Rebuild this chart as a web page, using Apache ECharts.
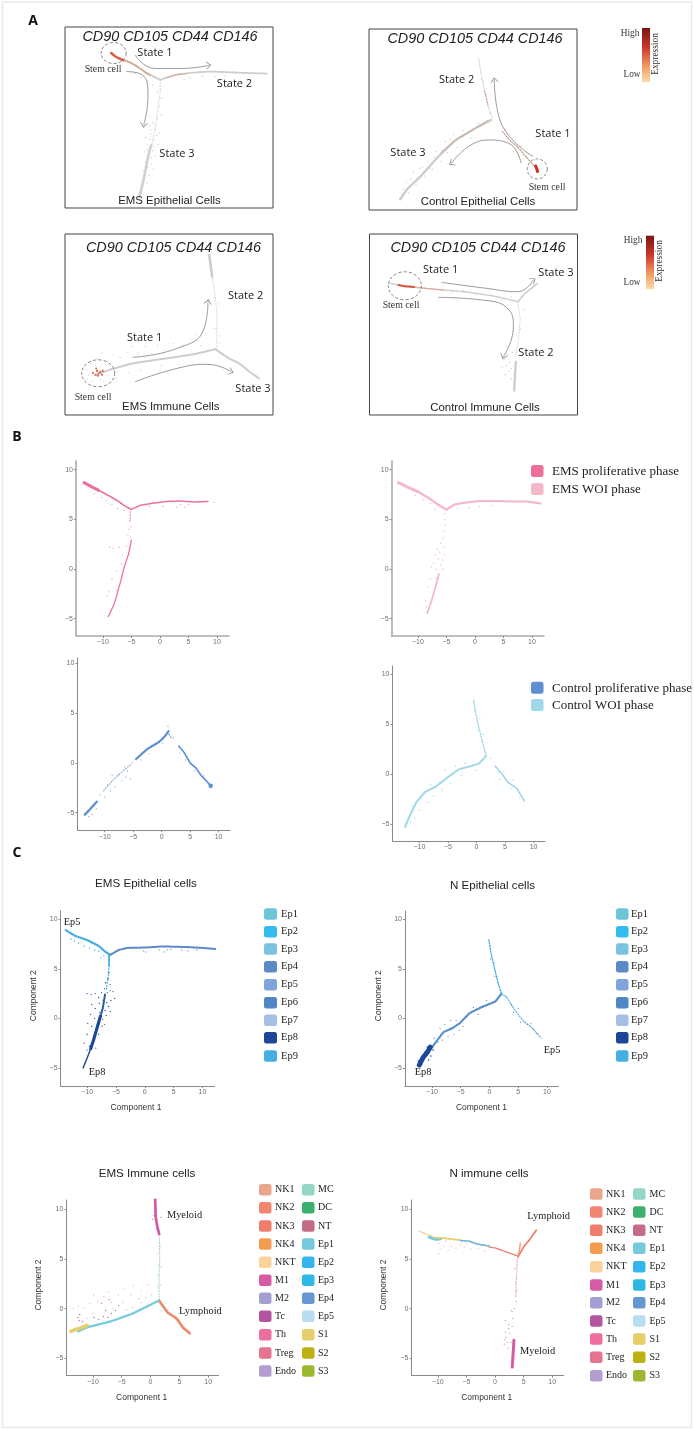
<!DOCTYPE html>
<html><head><meta charset="utf-8">
<style>html,body{margin:0;padding:0;background:#fff}#c{width:694px;height:1430px;filter:blur(0.4px)}</style>
<script src="https://cdn.jsdelivr.net/npm/echarts@6/dist/echarts.min.js"></script>
</head><body><div id="c"></div>
<script>
/* ---------- category / label lists ---------- */
const tickX = [-10,-5,0,5,10];
const tickY = [-5,0,5,10];
const panelLetters = ['A','B','C'];
const markerNames = 'CD90 CD105 CD44 CD146';
const epNames = ['Ep1','Ep2','Ep3','Ep4','Ep5','Ep6','Ep7','Ep8','Ep9'];
const epColors = ['#6DC5D8','#33BDEF','#7BC2E0','#5B8AC6','#7FA3DB','#4F86C6','#A5BFE6','#1C4797','#43AFE3'];
const immuneCol1 = ['NK1','NK2','NK3','NK4','NKT','M1','M2','Tc','Th','Treg','Endo'];
const immuneCol1Colors = ['#E9A68A','#F08570','#F07C6B','#F39C4E','#FAD29C','#D65BA5','#A49FD3','#B4569F','#EE6EA0','#E5738F','#B49BD0'];
const immuneCol2 = ['MC','DC','NT','Ep1','Ep2','Ep3','Ep4','Ep5','S1','S2','S3'];
const immuneCol2Colors = ['#94D6C6','#3BAF6E','#C66B85','#74CADB','#35B5EE','#2DB9E3','#6597D3','#B6DEF0','#E6CE6B','#BCB012','#9CB82F'];

/* ---------- A1 EMS epithelial ---------- */
const a1Top=[[-13.5,9],[-12.3,8.5],[-9.9,8],[-7.8,7.1],[-5.4,6.4]];
const a1Right=[[-5.4,6.4],[-2.7,6.9],[0,7.1],[3,7.2],[7,7.1],[12,7]];
const a1DownSparse=[[-5.4,6.4],[-5.4,5.4],[-6.2,1.8],[-6.8,0]];
const a1DownDense=[[-6.9,0],[-7.4,-1.1],[-8,-3],[-8.8,-5]];
const a1Hot=[[-13.4,9],[-12.8,8.7],[-12.2,8.5],[-11.4,8.3]];
const a1Warm=[[-11.2,8.3],[-10.2,8],[-9.2,7.7],[-8.2,7.3],[-7,6.8]];
const a1WarmRight=[[-4.5,6.6],[-3,6.85],[-1.2,7]];
const a1Grey=[[-9.5,7],[-8.5,6.6],[-7.5,6.3],[-6.6,5.9],[-5.9,5.2],[-5.2,4.6],[-5.6,3.8],[-5.2,3],[-5.9,2.6],[-6.6,2.2],[-7.2,1.9],[-6.2,1.6],[-5.6,1.2],[-6.9,1.1],[-7.8,0.8],[-6.4,0.5],[-5.8,0.1],[-7.4,0.1],[-8,-0.6],[-6.6,-0.5],[-6.2,-1],[-7.8,-1.6],[-6.8,-1.8],[-6.5,-2.3],[-8.2,-2.4],[-7.2,-2.9],[-7.6,-3.6],[-0.5,6.6],[1.5,6.7],[3.5,6.7],[5.2,6.75],[-1.5,6.4],[-7,1.5],[-6,1],[-7.1,0.6],[-6.5,-0.1],[-7.5,-0.4],[-6.9,-1.2],[-7.4,-2.1],[-8.1,-3.4],[-8.3,-4.1]];

/* ---------- A2 control epithelial ---------- */
const a2Lower=[[-12.5,-4.8],[-11.4,-3.9],[-9.3,-2.76],[-6.5,-1],[-3.6,0.54],[-0.5,1.6],[2,2.34]];
const a2Upper=[[0,7.9],[0.3,6.8],[0.94,5.05],[1.5,3.6],[2.2,2.5]];
const a2Right=[[3.8,1.29],[5,0.5],[6.2,-0.06],[7.8,-1.1],[9.4,-2.16]];
const a2Warm=[[-6,-0.6],[-4.8,0],[-3.6,0.6],[-2,1.1],[-0.5,1.6],[1.5,2.3]];
const a2WarmUp=[[0.9,5],[1.2,4.4],[1.5,3.7]];
const a2WarmRight=[[3.8,1.3],[5,0.5],[6.2,-0.1],[7.6,-1],[9,-1.9]];
const a2Hot=[[9.1,-1.8],[9.3,-2.1],[9.4,-2.3]];
const a2Grey=[[-11.5,-3.3],[-10.8,-3],[-10,-3.5],[-9.4,-2],[-8.6,-2.7],[-8,-1.4],[-7.4,-2.1],[-6.8,-0.5],[-6,-1.4],[-5.3,0.4],[-5,-0.6],[-4,1],[-3.4,-0.1],[-2.5,1.4],[-1.2,0.7],[0,2],[4.6,1.1],[5.6,-0.5],[6.8,0],[7.6,-0.6],[0.4,6],[0.7,5.8],[1.3,4.6],[1.8,3],[-12,-3.9],[-11.2,-4.2],[-12.2,-4.4],[-10.4,-2.4],[-9.8,-3],[-8.9,-1.9],[-7.8,-2],[-7,-1],[-5.8,-0.4],[-4.5,0.6]];

/* ---------- A3 EMS immune ---------- */
const a3Left=[[-13,-1.93],[-11,-1.3],[-8.5,-0.7],[-5.5,-0.3],[-3.1,0],[-1,0.3],[1.5,0.8]];
const a3Up=[[1.67,0.8],[1.67,4.6],[1.3,7.5],[1.1,8.5]];
const a3UpDense=[[1.1,8.5],[0.9,9.8],[0.76,10.8]];
const a3Right=[[1.5,0.8],[3,-0.1],[4.35,-0.7],[5.5,-1.5],[6.75,-2.28]];
const a3HotPts=[[-13.3,-1.7],[-13,-1.9],[-12.8,-1.5],[-12.6,-1.75],[-12.4,-1.6],[-12.2,-1.9],[-12.7,-2],[-12.1,-1.5],[-12.9,-1.25]];
const a3Grey=[[-14,-1.4],[-13.6,-0.7],[-12.8,-0.2],[-12.2,0.4],[-11.5,-0.4],[-10.8,0.2],[-10,-0.1],[-9.2,0.5],[-8.6,1.1],[-7.8,0.4],[-7,1.1],[-6.2,0.3],[-5.5,1.2],[-4.6,0.7],[-3.6,1.4],[-2.5,1.2],[-1.5,1.9],[-0.8,2.4],[-0.2,1.2],[-10.5,-2.3],[-9,-1.7],[-7.5,-1.4],[-5,-1],[-3,-0.8],[-13.6,-2.6],[-12,-2.6],[1.4,3],[2,2.2],[1.9,5.6],[1.4,6.3],[2,1.5],[-14,-2.4],[-13.8,-1.9],[-13.2,-2.6],[-12.4,-2.4],[-11.5,-2],[-11.8,-0.8],[-13,-0.9]];

/* ---------- A4 control immune ---------- */
const a4Left=[[-12.3,7.5],[-10,7.08],[-6.5,6.75],[-2.9,6.45],[0.8,5.9],[3.8,5.2]];
const a4UpRight=[[3.8,5.2],[4.8,6.3],[6.3,7.5]];
const a4Down=[[3.8,5.2],[4.1,2.9],[3.9,0.5],[3.6,-1.5]];
const a4DownDense=[[3.55,-2.4],[3.45,-4],[3.35,-6]];
const a4Hot=[[-11.2,7.3],[-10.5,7.15],[-9.8,7.1],[-9.2,7.05]];
const a4Warm=[[-9.2,7.05],[-7.5,6.85],[-5.5,6.65]];
const a4Grey=[[-4.5,6.3],[-3,6.6],[-1.5,6.1],[0.5,6.1],[1.8,5.4],[3,5.8],[4.2,5.9],[4.5,4.2],[4.1,1.8],[3.6,0.9],[2.4,-0.5],[2.5,-1.4],[2.1,-2.1],[2.4,-2.8],[1.8,-3],[2.7,-3.5],[2.2,-4],[3,-4.5],[2.8,-2.4],[3,-3.2],[3.1,-1.2]];

/* ---------- B1 / B2 EMS phases ---------- */
const b1TopDense=[[-13.3,8.7],[-12,8.3],[-10.8,7.95]];
const b1Top=[[-10.8,7.95],[-9,7.4],[-7.5,6.9],[-6,6.3],[-5,6]];
const b1Right=[[-5,6],[-3.5,6.4],[-1.5,6.6],[1,6.8],[3.5,6.85],[6,6.75],[8.4,6.8]];
const b1Down=[[-5.2,5.8],[-5.2,5.2],[-5.3,4.8]];
const b1Lower=[[-5,2.9],[-5.5,1.5],[-6.2,0.3],[-7,-1.5],[-8,-3.5],[-9.05,-4.8]];
const b1Pts=[[-11.5,7.6],[-10.2,7.2],[-9.4,6.9],[-8.4,6.5],[-7.4,6.1],[-6.9,6.6],[-6.3,5.9],[-5.1,4.3],[-5.4,4],[-5.6,3.4],[-5.1,3.2],[-8.8,2.2],[-8.2,2.1],[-7.1,2.2],[-6.6,1.4],[-5.9,2.3],[-6.8,0.5],[-7.6,-0.2],[-8.4,-1],[-8.9,-2.3],[-9.2,-2.7],[-1.8,6.3],[0.5,6.3],[3,6.2],[3.6,6.5],[4.4,6.2],[5,6.5],[9.5,6.7],[-7.6,-2.2],[-6.5,-0.7]];
const b2TopDense=[[-13.4,8.7],[-12,8.3],[-10,7.8]];
const b2Top=[[-10,7.8],[-8,7.1],[-6.5,6.5],[-5,6]];
const b2Right=[[-5,6],[-3.5,6.5],[-1.5,6.7],[1,6.85],[3.5,6.85],[6.5,6.8],[9,6.8],[11.5,6.6]];
const b2Lower=[[-6.3,-0.5],[-7,-2],[-7.6,-3.2],[-8.4,-4.5]];
const b2Pts=[[-5.3,5.6],[-5.3,5],[-5.2,4.4],[-5.4,3.8],[-5.6,3.1],[-6,2.6],[-6.6,2],[-5.5,2.2],[-6.2,1.7],[-5.4,1.5],[-7,1.4],[-6.4,1],[-5.7,0.9],[-7.2,0.6],[-6,0.4],[-6.8,0],[-7.6,0.2],[-5.6,0],[-7.8,-1],[-6.8,-0.9],[-8.2,-1.8],[-8.6,-3.2],[-8.5,-3.8],[-10.5,7.4],[-9,7],[-7.8,6.6],[-7,6],[-1,6.2],[0.8,6.3],[3,6.4],[-3,6.1]];

/* ---------- B3 / B4 control phases ---------- */
const b3Lower=[[-13.5,-5.2],[-12.5,-4.6],[-11.4,-3.9]];
const b3Mid=[[-10.2,-2.8],[-8.5,-1.7],[-7,-0.9],[-5.5,-0.2]];
const b3Upper=[[-4.5,0.4],[-2.5,1.4],[-0.5,2.1],[0.6,2.7],[1.2,3.2]];
const b3Tip=[[1.3,2.9],[1.6,2.6],[2,2.5]];
const b3Right=[[3,1.7],[4,1],[5,0],[6,-0.5],[7,-1.3],[8,-1.9],[8.6,-2.3]];
const b3Pts=[[-12.2,-5.2],[-12.8,-5.4],[-11.5,-4.6],[-10.8,-3.2],[-10,-3.4],[-9.5,-2.2],[-9,-2.8],[-8.2,-2.4],[-7.6,-1.2],[-7,-1.8],[-6.3,-1.4],[-6,-0.8],[-5.5,-1.6],[-8.7,-1.2],[-6.5,-0.4],[-5.2,0],[-3.6,0.3],[-2.2,0.9],[3.2,1],[4.2,0.3],[5.8,-0.8],[7.4,-1.3],[8.6,-2.5],[1.1,3.7],[0.2,2]];
const b4Lower=[[-12.5,-5.3],[-11.7,-4.2],[-10.5,-2.8],[-9,-1.8],[-7,-1.2],[-5,-0.3],[-3,0.5],[-1,0.8],[0.5,1.1],[1.6,1.8]];
const b4Up=[[-0.5,7.4],[-0.2,6.3],[0.3,5],[0.8,3.8],[1.5,2.3],[1.8,1.7]];
const b4Right=[[3.3,0.8],[4.5,0],[5.5,-0.8],[7,-1.4],[8.4,-2.7]];
const b4Pts=[[-11.5,-4.8],[-10.8,-4.4],[-11.2,-3.2],[-10,-3.6],[-9.6,-2.5],[-8.5,-2.8],[-8,-1],[-7.5,-2.2],[-6.6,-0.8],[-6,-1.6],[-5.5,0.4],[-4.6,-0.9],[-3.7,0.8],[-2.6,-0.1],[-2,1.1],[0,0.4],[3.8,0.2],[4.1,-0.5],[4.8,0.3],[6,-1.4],[6.4,-0.6],[7.6,-2.4],[0,6.4],[0.6,5.6],[0.2,4.4],[1,3.2],[1.2,4],[2.4,1.6]];

/* ---------- C1 EMS epithelial ---------- */
const c1Top=[[-13.7,8.9],[-12,8.3],[-10,7.9],[-8,7.3],[-6.8,6.7],[-6,6.4]];
const c1Right=[[-6,6.4],[-4.5,6.9],[-3,7.1],[0,7.15],[3,7.25],[7,7.2],[10,7.1],[12.3,7]];
const c1Stem=[[-6.2,6.3],[-6.2,5.3]];
const c1Stalk=[[-6.2,5.3],[-6.4,4],[-6.7,2.8]];
const c1DarkThin=[[-6.9,2.4],[-7.3,1],[-7.7,0.2]];
const c1Dark=[[-7.7,0.2],[-8.2,-0.8],[-8.9,-2.2],[-9.4,-3.1]];
const c1DarkTail=[[-9.4,-3.1],[-10,-4],[-10.7,-5]];
const c1DarkPts=[[-10,2.5],[-9.3,2.4],[-8.6,2.5],[-8,2.1],[-7.5,2.6],[-7,3],[-6.5,2.6],[-6,2.8],[-5.5,2.7],[-5.9,1.8],[-5.2,2],[-6.3,1.2],[-6,0.7],[-6.7,0.3],[-9.2,1.4],[-8.6,1],[-9.4,0.4],[-8.7,0],[-7.8,0.6],[-9.9,-0.5],[-9.2,-0.8],[-8.4,-1.2],[-7.4,-0.8],[-10,-1.6],[-8.6,-1.9],[-10.5,-2.5],[-9.6,-2.8],[-8.5,-3],[-10,-3.2],[-6.4,4],[-6.8,3.6],[-6.2,4.6],[-6,3.4],[-7.2,1.8],[-6.6,1.6],[-7.9,1.5],[-6.9,0.8],[-7.3,-0.1],[-7,-0.6],[-8,-1.6]];
const c1TopPts=[[-12.8,8],[-12.2,7.8],[-11.5,7.6],[-10.5,7.3],[-9.6,7.1],[-9.2,7.6],[-8.7,6.9],[-8,6.8],[-7.1,6.3],[-7.6,6.1]];
const c1RightPts=[[-0.2,6.8],[0.2,6.7],[2.5,6.9],[3.4,6.7],[3.9,6.9],[4.5,6.95],[6.4,6.9],[7.5,6.8],[9,6.9]];

/* ---------- C2 control epithelial ---------- */
const c2Dark=[[-12.2,-4.7],[-11.6,-4],[-10.8,-3.4],[-10.3,-2.9]];
const c2Lower=[[-10.1,-3],[-8,-1.4],[-6.5,-1],[-5.2,-0.5],[-3.5,0.5],[-1.5,1.1],[1,1.7],[2.1,2.5]];
const c2Up=[[-0.1,7.9],[0.3,6.5],[0.9,5],[1.5,3.6],[2.1,2.5]];
const c2Right=[[2.2,2.4],[2.9,2.2],[4,1.2],[5,0.4],[6,-0.3],[7.5,-1],[9,-2]];
const c2DarkPts=[[-12.4,-4.3],[-11.8,-4.6],[-11.2,-3.4],[-10.6,-4.2],[-10.2,-3.8],[-10.8,-2.9],[-11.5,-3.7],[-9.8,-3.2]];
const c2LowerPts=[[-9.6,-2],[-9,-2.4],[-8.6,-1],[-8.2,-2.2],[-7.8,-0.6],[-7.2,-1.8],[-6.8,-0.2],[-6.2,-1.6],[-5.8,-0.2],[-5.2,-1.2],[-4.6,-0.8],[-4,0.2],[-2.8,1.1],[-2,0.4],[-0.5,1.8],[3.8,1.4],[4.2,0.6],[5,1],[5.4,-0.4],[6.6,-0.6],[7.2,-0.5],[8.2,-1.5],[0.2,6],[0.8,5.6],[0.9,4.2],[1.3,4.2]];

/* ---------- C3 EMS immune ---------- */
const c3Myeloid=[[0.8,11],[0.85,10],[0.9,9.2],[1.2,8.2],[1.5,7.5]];
const c3Stalk=[[1.5,7.2],[1.6,5],[1.45,3],[1.5,0.8]];
const c3Lymphoid=[[1.5,0.8],[3,-0.4],[4.5,-1],[5.6,-1.9],[6.8,-2.5]];
const c3BandYellow=[[-13.8,-2.3],[-13,-2.1],[-12.3,-2],[-11,-1.7]];
const c3BandTeal=[[-12.6,-2.3],[-11,-1.9],[-9,-1.6],[-6.9,-1.3],[-5,-0.9],[-3.1,-0.5],[-1,0.1],[1.4,0.8]];
const c3Pts1=[[-12.4,-1.2],[-12.6,-0.9],[-12.3,-0.6],[-11.8,-1.3],[-9.8,-0.9],[-9,-1.1],[-8.2,-0.8],[-7.8,-0.2],[-7.4,-0.9],[-6.8,-0.5],[-6.1,-0.2],[-8.5,0.5],[-7.2,0.9],[-5.5,0.3],[0.6,9.4],[0.4,9],[1.8,9.2],[1.1,8],[0.9,8.8]];
const c3Pts2=[[-13.4,0],[-12.6,0.2],[-11.6,0.1],[-10.5,0.5],[-9.8,1.4],[-9.2,0.7],[-8.1,1.2],[-7.3,1.7],[-6.8,0.6],[-5.6,1.4],[-4.8,0.6],[-4.6,2],[-3.4,1.4],[-3,2.3],[-2,1],[-1.6,1.8],[-0.8,1.1],[0.2,1.4],[-0.5,2.4],[1.2,2.2],[1.8,4.2],[1.3,5.6],[1.7,6.3]];
const c3Pts3=[[-11,-1],[-10,-0.5],[-6.5,0],[-4.2,-0.1],[-3.2,0.1],[-1.6,0.6],[0.2,0.4],[2,0.2],[2.5,0.6],[1.9,-0.2],[1.4,3.4],[1.7,2.4],[1.4,4.4],[1.6,6.6]];

/* ---------- C4 control immune ---------- */
const c4BandPale=[[-13.2,7.8],[-12,7.5],[-11,7.3]];
const c4BandTeal=[[-11.5,7.2],[-10.5,7],[-9.5,7.05]];
const c4BandYellow=[[-10.6,7.15],[-9,7.1],[-7.5,7],[-6,6.9]];
const c4BandBlue=[[-6,6.85],[-4.6,6.8],[-3,6.5],[-1,6.3]];
const c4BandRed=[[-1,6.2],[0.1,6.1],[2,5.7],[3.97,5.3]];
const c4Lymphoid=[[4,5.2],[5,6.2],[6.1,7],[7.2,7.9]];
const c4Side=[[4,5.3],[4.3,6],[4.4,6.6]];
const c4Stalk=[[3.9,5],[3.8,3.8],[3.6,1.2]];
const c4Myeloid=[[3.3,-3.2],[3.2,-4.2],[3,-5.9]];
const c4Pts1=[[-9.9,6.6],[-9.6,6],[-9.8,5.5],[-9,6.3],[-8.2,5.9],[-7.6,6.3],[-6.8,6.1],[-6,6.4],[-5.4,6.2],[-4.2,6],[-3,6.1],[-1.8,5.8],[-8.6,6.8],[-5,6.6],[-2.4,6.4]];
const c4Pts2=[[3.5,4],[3.6,2.6],[3.8,1.8],[3.7,0.7],[3.4,0],[2.8,-0.2],[3.1,-1],[1.8,-1.2],[2.4,-1.6],[3,-1.8],[1.8,-2.4],[2.6,-2.5],[1.7,-3.1],[2.2,-3.4],[1.6,-3.6],[2.3,-4],[2.8,-3.4],[2.4,-2],[3,-0.3],[1.9,-2.9]];

/* ---------- arrows & stem-cell rings ---------- */
const a1Arrow1=[[-9.5,8.8],[-6.3,7.5],[-1.95,7.5],[2.5,7.8]];
const a1Arrow2=[[-11,7.2],[-8.4,6.9],[-7.4,4.75],[-8.1,2]];
const a2Arrow1=[[8.7,-0.96],[3.4,2.34],[2.5,5.95]];
const a2Arrow2=[[6.8,-1.56],[4.8,0.24],[1.3,0.54],[-4.35,-1.56]];
const a3Arrow1=[[-8.5,-0.05],[-3.1,0.9],[0.06,2.84],[0.6,5.85]];
const a3Arrow2=[[-8.2,-2.64],[-3.1,-1.22],[0.6,-0.8],[3.4,-1.58]];
const a4Arrow1=[[-5.8,7.63],[-0.1,6.87],[3.8,6.45],[5.75,7.92]];
const a4Arrow2=[[-6.2,5.74],[-0.65,5.4],[2.7,4.15],[3.25,2.05],[2,-1.72]];
const a1Ring=[-13,9], a2Ring=[9.35,-2.07], a3Ring=[-12.66,-1.75], a4Ring=[-10.4,7.2];

/* ---------- layout ---------- */
const gridBoxes = {
  a1:{l:65,t:27,w:208,h:181,x:[-20.94,13],y:[-6.06,11.53]},
  a2:{l:369,t:29,w:208,h:181,x:[-17.48,15.69],y:[-5.77,10.54]},
  a3:{l:65,t:234,w:208,h:181,x:[-16.67,8.45],y:[-6.17,13.02]},
  a4:{l:369.5,t:234,w:208,h:181,x:[-14.84,11.31],y:[-9.06,13.71]},
  b1:{l:76,t:461,w:153,h:175,x:[-14.7,12.1],y:[-6.75,10.88],ax:1,axW:1.6,axC:'#aaaaaa'},
  b2:{l:391.6,t:461,w:152.4,h:175,x:[-14.6,12.1],y:[-6.75,10.88],ax:1,axW:1.6,axC:'#aaaaaa'},
  b3:{l:77.4,t:658,w:152.6,h:172.3,x:[-14.8,12],y:[-6.77,10.55],ax:1},
  b4:{l:392.5,t:666,w:152.5,h:175,x:[-14.7,12],y:[-6.7,10.85],ax:1},
  c1:{l:60.6,t:911,w:154,h:175,x:[-14.6,12.1],y:[-6.82,10.83],ax:1},
  c2:{l:405,t:911,w:153.4,h:175,x:[-14.7,12],y:[-6.82,10.83],ax:1},
  c3:{l:66.4,t:1200,w:152.2,h:175.7,x:[-14.6,11.8],y:[-6.77,10.95],ax:1},
  c4:{l:411.5,t:1200,w:152.2,h:175.7,x:[-14.6,12],y:[-6.77,10.95],ax:1}
};
const gridKeys = Object.keys(gridBoxes);
const grids=[],xAxes=[],yAxes=[],series=[],gfx=[];
const minusFmt = v => String(v).replace('-','\u2212');
gridKeys.forEach(k=>{
  const b=gridBoxes[k];
  const framed=!b.ax;
  grids.push({left:b.l,top:b.t,width:b.w,height:b.h,show:framed,borderColor:'#444',borderWidth:1,backgroundColor:'transparent'});
  const axisBase=(range,ticks)=>({type:'value',min:range[0],max:range[1],show:!framed,splitLine:{show:false},
    axisLine:{show:true,onZero:false,lineStyle:{color:b.axC||'#8a8a8a',width:b.axW||1}},
    axisTick:{show:true,length:2,lineStyle:{color:'#8a8a8a'},customValues:ticks},
    axisLabel:{show:true,fontSize:7,color:'#6f6f6f',fontFamily:'Liberation Sans',margin:3,customValues:ticks,formatter:minusFmt}});
  xAxes.push(Object.assign(axisBase(b.x,tickX),{gridIndex:grids.length-1}));
  yAxes.push(Object.assign(axisBase(b.y,tickY),{gridIndex:grids.length-1}));
});
const idx=k=>gridKeys.indexOf(k);
let zc=2;
const SPECK=[1.2,1.6], GRAIN=[3,0.8];
function band(k,pts,color,width,opacity,dash){
  series.push({type:'line',xAxisIndex:idx(k),yAxisIndex:idx(k),data:pts,symbol:'none',smooth:0.1,silent:true,animation:false,z:zc++,
    lineStyle:{color,width,opacity:opacity==null?1:opacity,cap:'round',type:dash||'solid'}});
}
function dots(k,pts,color,size,opacity){
  series.push({type:'scatter',xAxisIndex:idx(k),yAxisIndex:idx(k),data:pts,symbolSize:size,silent:true,animation:false,z:zc++,
    itemStyle:{color,opacity:opacity==null?1:opacity}});
}
const arrowPath='path://M0 0L5 6L4.3 6.6L0 1.8L-4.3 6.6L-5 6Z';
function arrow(k,pts){
  const b=gridBoxes[k];
  const sx=b.w/(b.x[1]-b.x[0]), sy=b.h/(b.y[1]-b.y[0]);
  const p=pts[pts.length-1], q=pts[pts.length-2];
  const ang=Math.atan2((p[0]-q[0])*sx,(p[1]-q[1])*sy)*180/Math.PI;
  const data=pts.map((v,i)=> i===pts.length-1 ? {value:v,symbol:arrowPath,symbolSize:[8,8],symbolRotate:-ang,symbolKeepAspect:true,itemStyle:{color:'#8f8f8f'}} : {value:v,symbol:'none'});
  series.push({type:'line',xAxisIndex:idx(k),yAxisIndex:idx(k),data,smooth:0.5,showAllSymbol:true,silent:true,animation:false,z:60,
    lineStyle:{color:'#9a9a9a',width:1}});
}
function ring(k,pt,w,h){
  series.push({type:'scatter',xAxisIndex:idx(k),yAxisIndex:idx(k),data:[pt],symbol:'circle',symbolSize:[w,h],silent:true,animation:false,z:61,
    itemStyle:{color:'transparent',borderColor:'#555',borderWidth:0.9,borderType:[3,2]}});
}

/* panel A */
const G='#cdcdcd';
band('a1',a1Top,G,2,1,GRAIN); band('a1',a1Right,G,1.8,1,GRAIN); band('a1',a1DownSparse,G,1,.8,SPECK); band('a1',a1DownDense,'#d2d2d2',2.8);
dots('a1',a1Grey,G,1.4); band('a1',a1Hot,'#d4603f',2.4); band('a1',a1Warm,'#d99c84',1.2,1,GRAIN); band('a1',a1WarmRight,'#dba994',1,1,GRAIN);
arrow('a1',a1Arrow1); arrow('a1',a1Arrow2); ring('a1',a1Ring,25,21);
band('a2',a2Lower,G,2.4,1,GRAIN); band('a2',a2Upper,G,1.1,.9,SPECK); band('a2',a2Right,G,1.2,1,SPECK); dots('a2',a2Grey,G,1.4);
band('a2',a2Warm,'#d08d74',1,1,SPECK); band('a2',a2WarmUp,'#cf8d78',.9,1,SPECK); band('a2',a2WarmRight,'#d07a5e',1,1,SPECK); band('a2',a2Hot,'#d12f1f',3);
arrow('a2',a2Arrow1); arrow('a2',a2Arrow2); ring('a2',a2Ring,20,20);
band('a3',a3Left,G,2,1,GRAIN); band('a3',a3Up,G,1,.8,SPECK); band('a3',a3UpDense,G,2.6); band('a3',a3Right,G,2,1,GRAIN); dots('a3',a3Grey,'#d6d6d6',1.4);
dots('a3',a3HotPts,'#dd6a4a',2.2);
arrow('a3',a3Arrow1); arrow('a3',a3Arrow2); ring('a3',a3Ring,33,27);
band('a4',a4Left,G,1.4,1,GRAIN); band('a4',a4UpRight,G,1.6,1,GRAIN); band('a4',a4Down,G,1,.8,SPECK); band('a4',a4DownDense,G,2.4); dots('a4',a4Grey,G,1.4);
band('a4',a4Hot,'#d4553a',2); band('a4',a4Warm,'#e2a48c',1,1,GRAIN);
arrow('a4',a4Arrow1); arrow('a4',a4Arrow2); ring('a4',a4Ring,33,28);

/* panel B */
const P1='#EE6E9A',P2='#F5B8C8',B1='#5E8FD2',B2='#9FD8E9';
band('b1',b1TopDense,P1,3); band('b1',b1Top,P1,1.6,1,GRAIN); band('b1',b1Right,P1,1.5,1,GRAIN); band('b1',b1Down,P1,1,1,SPECK); band('b1',b1Lower,P1,1.3,1,GRAIN); dots('b1',b1Pts,P1,1.2,.8);
band('b2',b2TopDense,P2,3); band('b2',b2Top,P2,2.4); band('b2',b2Right,P2,2.2,1,GRAIN); band('b2',b2Lower,P2,1.8,1,GRAIN); dots('b2',b2Pts,P2,1.4);
band('b3',b3Lower,B1,2.4,1,GRAIN); band('b3',b3Mid,B1,1.1,.7,SPECK); band('b3',b3Upper,B1,2.2,1,GRAIN); band('b3',b3Tip,B1,1.2,1,SPECK); band('b3',b3Right,B1,1.7,1,GRAIN); dots('b3',b3Pts,B1,1.2,.8); dots('b3',[b3Right[6]],B1,4.5);
band('b4',b4Lower,B2,2,1,GRAIN); band('b4',b4Up,B2,1.4,1,SPECK); band('b4',b4Right,B2,1.6,1,GRAIN); dots('b4',b4Pts,B2,1.4);

/* panel C */
band('c1',c1Top,'#43AFE3',2.2,1,GRAIN); band('c1',c1Right,'#5B8AC6',2,1,GRAIN); band('c1',c1Stem,'#43AFE3',1.8); band('c1',c1Stalk,'#43AFE3',1.1,1,SPECK);
band('c1',c1DarkThin,'#2C5AA8',2,1,GRAIN); band('c1',c1Dark,'#1C4797',3.2,1,GRAIN); band('c1',c1DarkTail,'#1C4797',1.4);
dots('c1',c1DarkPts,'#2C5AA8',1.4); dots('c1',c1TopPts,'#43AFE3',1.4); dots('c1',c1RightPts,'#5B8AC6',1.2);
band('c2',c2Lower,'#5B92CE',2.2,1,GRAIN); band('c2',c2Up,'#43AFE3',1.4,1,SPECK); band('c2',c2Right,'#5DB0E0',1.2,1,SPECK); band('c2',c2Dark,'#1C4797',5);
dots('c2',c2DarkPts,'#1C4797',1.6); dots('c2',c2LowerPts,'#4F86C6',1.2);
band('c3',c3Stalk,'#94C6BC',1,.8,SPECK); band('c3',c3Myeloid,'#D65BA5',2.8,1,GRAIN); band('c3',c3Lymphoid,'#EE8A6B',2.6);
band('c3',c3BandTeal,'#74CADB',2.2,1,GRAIN); band('c3',c3BandYellow,'#E6CE6B',3.6);
dots('c3',c3Pts1,'#C268A8',1.4); dots('c3',c3Pts2,'#E4A6BE',1.2); dots('c3',c3Pts3,'#94C6BC',1.2);
band('c4',c4BandPale,'#FAD29C',1.4); band('c4',c4BandTeal,'#74CADB',3); band('c4',c4BandYellow,'#E6CE6B',1.8,1,GRAIN); band('c4',c4BandBlue,'#74B2D8',1.6,1,GRAIN); band('c4',c4BandRed,'#E68878',1.4,1,GRAIN);
band('c4',c4Lymphoid,'#EE7F6A',1.8); band('c4',c4Side,'#F0A070',1.4); band('c4',c4Stalk,'#D88BA8',1,.8,SPECK); band('c4',c4Myeloid,'#D65BA5',3);
dots('c4',c4Pts1,'#DCA8C8',1.2); dots('c4',c4Pts2,'#D88BBC',1.3);

/* ---------- text & furniture ---------- */
function text(x,y,s,o){o=o||{};
  gfx.push({type:'text',x,y,rotation:o.rot||0,z:100,style:{text:s,fill:o.color||'#222',
    font:(o.style||'')+' '+(o.weight||'')+' '+(o.size||10)+'px '+(o.family||'"Liberation Sans"'),
    textAlign:o.align||'center',textVerticalAlign:'middle'}});
}
const SERIF='"Liberation Serif"', OS='"Open Sans"';
gfx.push({type:'rect',shape:{x:2.5,y:2,width:689,height:1425.5},z:0,style:{fill:'none',stroke:'#e9e9e9',lineWidth:1.5}});
text(33,21,panelLetters[0],{size:14,weight:'bold',color:'#111',family:'"Open Sans"'});
text(17,437,panelLetters[1],{size:14,weight:'bold',color:'#111',family:'"Open Sans"'});
text(17,853,panelLetters[2],{size:14,weight:'bold',color:'#111',family:'"Open Sans"'});
[[170,37],[475,39],[173.5,248],[478,248]].forEach(p=>text(p[0],p[1],markerNames,{size:14.4,style:'italic',color:'#222'}));
[[155,53,'State 1'],[234.5,84,'State 2'],[177,154,'State 3'],[456.6,80,'State 2'],[553,134,'State 1'],[408,153,'State 3'],
 [245.6,295.7,'State 2'],[144.7,337.7,'State 1'],[253,389,'State 3'],[440.7,270,'State 1'],[556,272.7,'State 3'],[536,352.7,'State 2']]
 .forEach(p=>text(p[0],p[1],p[2],{size:11,family:OS,color:'#222'}));
[[103,69],[547,187],[93,397],[401,305.7]].forEach(p=>text(p[0],p[1],'Stem cell',{size:9.8,family:SERIF,color:'#333'}));
[[169.5,201,'EMS Epithelial Cells'],[478,202,'Control Epithelial Cells'],[170.8,406.7,'EMS Immune Cells'],[485,407.7,'Control Immune Cells']]
 .forEach(p=>text(p[0],p[1],p[2],{size:11.4,color:'#222'}));
/* expression colour bars */
[[642,28,8,54,630,34,632,75,656,54],[646,235.7,8,53.5,633,241,632,283,660,261]].forEach(a=>{
  gfx.push({type:'rect',shape:{x:a[0],y:a[1],width:a[2],height:a[3]},z:50,style:{fill:new echarts.graphic.LinearGradient(0,0,0,1,[
    {offset:0,color:'#7a1414'},{offset:.35,color:'#c9352a'},{offset:.7,color:'#ef9a62'},{offset:1,color:'#fbdca6'}])}});
  text(a[4],a[5],'High',{size:9.3,family:SERIF,color:'#333'});
  text(a[6],a[7],'Low',{size:9.3,family:SERIF,color:'#333'});
  text(a[8],a[9],'Expression',{size:9.4,family:SERIF,color:'#333',rot:Math.PI/2});
});
function swatch(x,y,color,w,h){gfx.push({type:'rect',shape:{x,y:y-h/2,width:w,height:h,r:2.5},z:50,style:{fill:color}});}
/* phase legends */
[[531,471,'EMS proliferative phase',P1],[531,489,'EMS WOI phase',P2],[531,687.7,'Control proliferative phase',B1],[531,705,'Control WOI phase',B2]]
 .forEach(r=>{swatch(r[0],r[1],r[3],12.5,12);text(r[0]+21,r[1]+1,r[2],{size:13,family:SERIF,align:'left',color:'#222'});});
/* panel C titles and axis names */
[[146,884,'EMS Epithelial cells'],[492.5,886,'N Epithelial cells'],[147,1173.7,'EMS Immune cells'],[489,1173.7,'N immune cells']]
 .forEach(p=>text(p[0],p[1],p[2],{size:11.6,color:'#222'}));
[[136,1108],[481.4,1108],[141.6,1397.7],[486.7,1397.7]].forEach(p=>text(p[0],p[1],'Component 1',{size:8.5,color:'#333'}));
[[34,995.7],[378.8,995.7],[39,1285],[383.6,1285]].forEach(p=>text(p[0],p[1],'Component 2',{size:8.5,color:'#333',rot:Math.PI/2}));
/* in-plot annotations */
[[72,922,'Ep5'],[97,1072.7,'Ep8'],[552,1050,'Ep5'],[423,1072,'Ep8'],[184.5,1215,'Myeloid'],[200.4,1311.7,'Lymphoid'],[548.7,1216.7,'Lymphoid'],[537.6,1351,'Myeloid']]
 .forEach(p=>text(p[0],p[1],p[2],{size:10.4,family:SERIF,color:'#222'}));
/* Ep legends */
const epRows=[914,931.7,949,966.7,984.7,1002.7,1020.3,1037.7,1056];
epNames.forEach((n,i)=>{
  swatch(264,epRows[i],epColors[i],13,11.5); text(281,epRows[i],n,{size:10.5,family:SERIF,align:'left',color:'#222'});
  swatch(616,epRows[i],epColors[i],12.5,11.5); text(631,epRows[i],n,{size:10.5,family:SERIF,align:'left',color:'#222'});
});
/* immune legends */
const c3Rows=[1189.7,1207.7,1226,1244,1262.3,1280.3,1298.3,1316.3,1334.7,1353,1371];
const c4Rows=[1194,1212,1230.3,1248.3,1266.7,1285,1302.7,1321,1339,1357.3,1375.7];
immuneCol1.forEach((n,i)=>{
  swatch(259,c3Rows[i],immuneCol1Colors[i],12.5,11.5); text(275,c3Rows[i],n,{size:10,family:SERIF,align:'left',color:'#222'});
  swatch(590,c4Rows[i],immuneCol1Colors[i],12.5,11.5); text(606,c4Rows[i],n,{size:10,family:SERIF,align:'left',color:'#222'});
});
immuneCol2.forEach((n,i)=>{
  swatch(302,c3Rows[i],immuneCol2Colors[i],12.5,11.5); text(318,c3Rows[i],n,{size:10,family:SERIF,align:'left',color:'#222'});
  swatch(633,c4Rows[i],immuneCol2Colors[i],12.5,11.5); text(649.5,c4Rows[i],n,{size:10,family:SERIF,align:'left',color:'#222'});
});

const chart=echarts.init(document.getElementById('c'),null,{renderer:'canvas',width:694,height:1430});
chart.setOption({animation:false,backgroundColor:'#fff',grid:grids,xAxis:xAxes,yAxis:yAxes,series,graphic:{elements:gfx}});
</script></body></html>
